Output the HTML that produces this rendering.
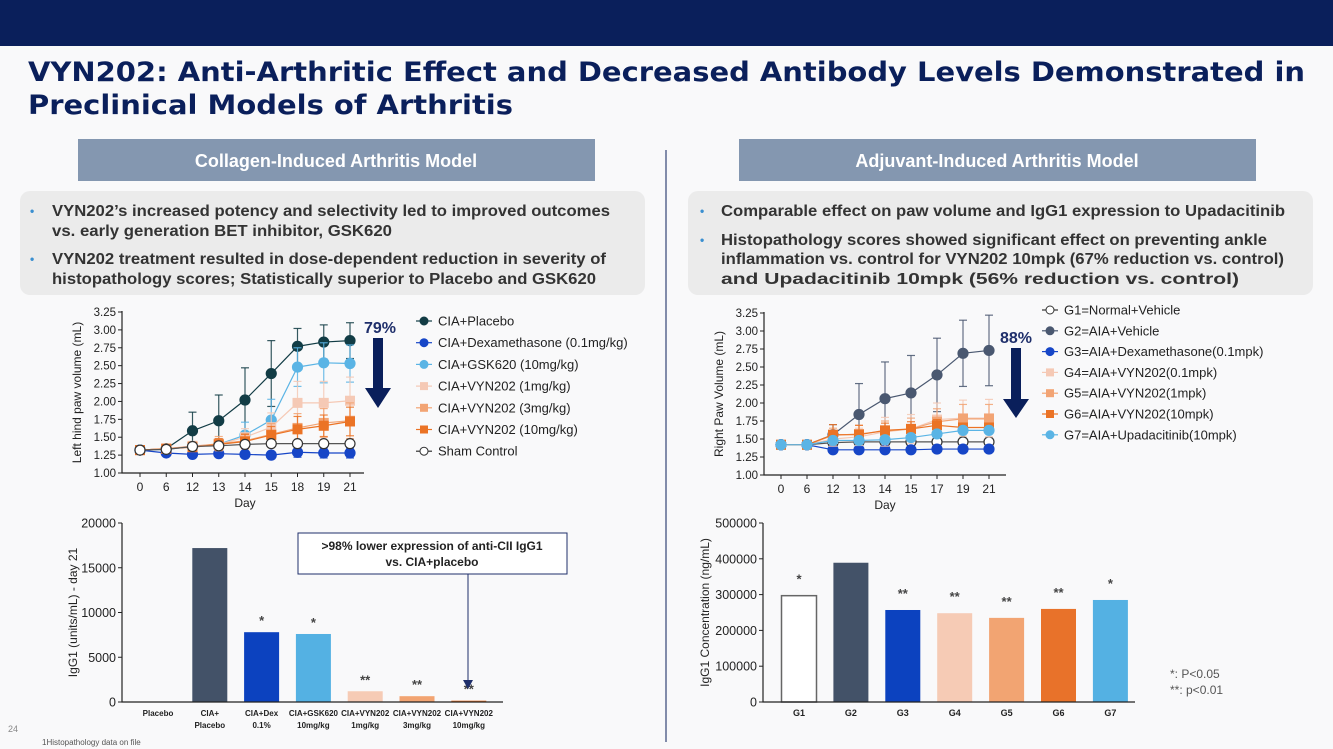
<!DOCTYPE html>
<html><head><meta charset="utf-8"><style>
html,body{margin:0;padding:0;background:#f9f9fa;}
svg{display:block;font-family:"Liberation Sans",Arial,sans-serif;}
</style></head><body>
<svg id="s" width="1333" height="749" viewBox="0 0 1333 749" xmlns="http://www.w3.org/2000/svg">
<rect x="0" y="0" width="1333" height="749" fill="#f9f9fa"/>
<rect x="0" y="0" width="1333" height="46" fill="#0a1f5b"/>
<g font-family="'DejaVu Sans',sans-serif" font-weight="bold" font-size="27" fill="#0a1f5b">
<text x="28" y="81" textLength="1277" lengthAdjust="spacingAndGlyphs">VYN202: Anti-Arthritic Effect and Decreased Antibody Levels Demonstrated in</text>
<text x="28" y="114" textLength="485" lengthAdjust="spacingAndGlyphs">Preclinical Models of Arthritis</text>
</g>
<rect x="78" y="139" width="517" height="42" fill="#8497b0"/>
<text x="336" y="167" text-anchor="middle" fill="#fff" font-weight="bold" font-size="18">Collagen-Induced Arthritis Model</text>
<rect x="739" y="139" width="517" height="42" fill="#8497b0"/>
<text x="997" y="167" text-anchor="middle" fill="#fff" font-weight="bold" font-size="18">Adjuvant-Induced Arthritis Model</text>
<line x1="666" y1="150" x2="666" y2="742" stroke="#0a1f5b" stroke-width="1"/>
<rect x="20" y="191" width="625" height="104" rx="10" fill="#ebebeb"/>
<rect x="688" y="191" width="625" height="104" rx="10" fill="#ebebeb"/>
<g font-weight="bold" font-size="16" fill="#333">
<text x="30" y="215" fill="#3a8fd0" font-size="12">•</text>
<text x="52" y="216" textLength="558" lengthAdjust="spacingAndGlyphs">VYN202’s increased potency and selectivity led to improved outcomes</text>
<text x="52" y="236" textLength="340" lengthAdjust="spacingAndGlyphs">vs. early generation BET inhibitor, GSK620</text>
<text x="30" y="263" fill="#3a8fd0" font-size="12">•</text>
<text x="52" y="264" textLength="554" lengthAdjust="spacingAndGlyphs">VYN202 treatment resulted in dose-dependent reduction in severity of</text>
<text x="52" y="284" textLength="544" lengthAdjust="spacingAndGlyphs">histopathology scores; Statistically superior to Placebo and GSK620</text>
</g>
<g font-weight="bold" font-size="16" fill="#333">
<text x="700" y="215" fill="#3a8fd0" font-size="12">•</text>
<text x="721" y="216" textLength="564" lengthAdjust="spacingAndGlyphs">Comparable effect on paw volume and IgG1 expression to Upadacitinib</text>
<text x="700" y="244" fill="#3a8fd0" font-size="12">•</text>
<text x="721" y="245" textLength="546" lengthAdjust="spacingAndGlyphs">Histopathology scores showed significant effect on preventing ankle</text>
<text x="721" y="264" textLength="563" lengthAdjust="spacingAndGlyphs">inflammation vs. control for VYN202 10mpk (67% reduction vs. control)</text>
<text x="721" y="284" textLength="518" lengthAdjust="spacingAndGlyphs">and Upadacitinib 10mpk (56% reduction vs. control)</text>
</g>
<g id="charts"></g>
<!-- arrows -->
<text x="380" y="333" text-anchor="middle" font-weight="bold" font-size="16" fill="#1f2f6b">79%</text>
<polygon points="373,338 383,338 383,388 391,388 378,408 365,388 373,388" fill="#0a1f5b"/>
<text x="1016" y="343" text-anchor="middle" font-weight="bold" font-size="16" fill="#1f2f6b">88%</text>
<polygon points="1011,348 1021,348 1021,399 1029,399 1016,418 1003,399 1011,399" fill="#0a1f5b"/>
<!-- annotation -->
<rect x="298" y="533" width="269" height="41" fill="#fff" stroke="#1f2f6b" stroke-width="1"/>
<text x="432" y="550" text-anchor="middle" font-weight="bold" font-size="12" fill="#222">&gt;98% lower expression of anti-CII IgG1</text>
<text x="432" y="566" text-anchor="middle" font-weight="bold" font-size="12" fill="#222">vs. CIA+placebo</text>
<line x1="468" y1="574" x2="468" y2="680" stroke="#1f2f6b" stroke-width="1"/>
<polygon points="463,680 473,680 468,689" fill="#1f2f6b"/>
<text x="1170" y="678" font-size="12" fill="#555">*:   P&lt;0.05</text>
<text x="1170" y="694" font-size="12" fill="#555">**:  p&lt;0.01</text>
<text x="8" y="732" font-size="9" fill="#888">24</text>
<text x="42" y="745" font-size="8" fill="#555">1Histopathology data on file</text>
</svg>
<script>
// ---- data ----
const days = ["0","6","12","13","14","15","18","19","21"];
const daysR = ["0","6","12","13","14","15","17","19","21"];
const lineTicks = [1.00,1.25,1.50,1.75,2.00,2.25,2.50,2.75,3.00,3.25];
const ciaNames = ["CIA+Placebo","CIA+Dexamethasone (0.1mg/kg)","CIA+GSK620 (10mg/kg)","CIA+VYN202 (1mg/kg)","CIA+VYN202 (3mg/kg)","CIA+VYN202 (10mg/kg)","Sham Control"];
const ciaPlacebo = [1.32,1.34,1.59,1.73,2.02,2.39,2.77,2.83,2.85];
const ciaPlaceboErr = [0.03,0.02,0.26,0.36,0.45,0.46,0.25,0.24,0.25];
const ciaDex = [1.32,1.28,1.26,1.27,1.26,1.25,1.29,1.28,1.28];
const ciaDexErr = [0.03,0.02,0.03,0.03,0.04,0.05,0.07,0.07,0.07];
const ciaGsk = [1.32,1.33,1.37,1.40,1.53,1.74,2.48,2.54,2.53];
const ciaGskErr = [0.03,0.02,0.05,0.08,0.18,0.29,0.27,0.28,0.26];
const ciaV1 = [1.32,1.34,1.38,1.40,1.50,1.64,1.98,1.98,2.01];
const ciaV1Err = [0.03,0.02,0.05,0.08,0.12,0.2,0.3,0.3,0.33];
const ciaV3 = [1.32,1.34,1.37,1.41,1.45,1.54,1.63,1.70,1.73];
const ciaV3Err = [0.03,0.02,0.05,0.1,0.1,0.15,0.2,0.2,0.25];
const ciaV10 = [1.32,1.34,1.36,1.40,1.44,1.53,1.61,1.66,1.72];
const ciaV10Err = [0.03,0.02,0.05,0.08,0.1,0.12,0.18,0.15,0.2];
const ciaSham = [1.32,1.33,1.37,1.38,1.40,1.41,1.41,1.41,1.41];
const aiaNames = ["G1=Normal+Vehicle","G2=AIA+Vehicle","G3=AIA+Dexamethasone(0.1mpk)","G4=AIA+VYN202(0.1mpk)","G5=AIA+VYN202(1mpk)","G6=AIA+VYN202(10mpk)","G7=AIA+Upadacitinib(10mpk)"];
const aiaG1 = [1.42,1.42,1.45,1.46,1.46,1.46,1.46,1.46,1.46];
const aiaG2 = [1.42,1.42,1.56,1.84,2.06,2.14,2.39,2.69,2.73];
const aiaG2Err = [0.03,0.03,0.14,0.43,0.51,0.52,0.51,0.46,0.49];
const aiaG3 = [1.42,1.42,1.35,1.35,1.35,1.35,1.36,1.36,1.36];
const aiaG4 = [1.42,1.42,1.50,1.53,1.60,1.64,1.77,1.79,1.79];
const aiaG4Err = [0.02,0.02,0.1,0.12,0.2,0.2,0.23,0.25,0.26];
const aiaG5 = [1.42,1.42,1.55,1.57,1.61,1.64,1.74,1.78,1.78];
const aiaG5Err = [0.02,0.02,0.1,0.12,0.14,0.15,0.18,0.2,0.2];
const aiaG6 = [1.42,1.42,1.56,1.56,1.62,1.64,1.69,1.66,1.66];
const aiaG6Err = [0.02,0.02,0.14,0.13,0.1,0.1,0.08,0.06,0.06];
const aiaG7 = [1.42,1.42,1.48,1.48,1.49,1.52,1.57,1.62,1.62];
const ciaBarCats = [["Placebo",""],["CIA+","Placebo"],["CIA+Dex","0.1%"],["CIA+GSK620","10mg/kg"],["CIA+VYN202","1mg/kg"],["CIA+VYN202","3mg/kg"],["CIA+VYN202","10mg/kg"]];
const ciaBarVals = [0,17200,7800,7600,1200,650,150];
const ciaBarSig = ["","","*","*","**","**","**"];
const ciaBarTicks = [0,5000,10000,15000,20000];
const aiaBarCats = ["G1","G2","G3","G4","G5","G6","G7"];
const aiaBarVals = [297000,389000,257000,248000,235000,260000,285000];
const aiaBarSig = ["*","","**","**","**","**","*"];
const aiaBarTicks = [0,100000,200000,300000,400000,500000];

const NS="http://www.w3.org/2000/svg";
const root=document.getElementById('charts');
function el(tag,attrs,parent,txt){const e=document.createElementNS(NS,tag);for(const k in attrs)e.setAttribute(k,attrs[k]);if(txt!==undefined)e.textContent=txt;(parent||root).appendChild(e);return e;}

function lineChart(cfg){
  const g=el('g',{});
  
  
  const y=v=>cfg.y0+(v-1)/(2.25)*(cfg.y1-cfg.y0);
  const x=i=>cfg.x0+i*(cfg.x1-cfg.x0)/(cfg.cats.length-1);
  const ax=el('path',{d:`M${cfg.ax},${cfg.y1-1} V${cfg.y0} H${cfg.axEnd}`,stroke:'#222',fill:'none','stroke-width':1.2},g);
  
  
  lineTicks.forEach(t=>{
    el('line',{x1:cfg.ax-4,x2:cfg.ax,y1:y(t),y2:y(t),stroke:'#222'},g);
    const tl=el('text',{x:cfg.ax-6,y:y(t)+4,'text-anchor':'end','font-size':11.5,fill:'#222'},g,t.toFixed(2));
    
    
  });
  cfg.cats.forEach((c,i)=>{
    el('line',{x1:x(i),x2:x(i),y1:cfg.y0,y2:cfg.y0+4,stroke:'#222'},g);
    const tl=el('text',{x:x(i),y:cfg.y0+18,'text-anchor':'middle','font-size':12,fill:'#222'},g,c);
    
    
  });
  const xt=el('text',{x:(cfg.x0+cfg.x1)/2,y:cfg.y0+34,'text-anchor':'middle','font-size':12,fill:'#222'},g,'Day');
  
  
  const yt=el('text',{transform:`translate(${cfg.ax-41},${(cfg.y0+cfg.y1)/2}) rotate(-90)`,'text-anchor':'middle','font-size':12,fill:'#222'},g,cfg.ytitle);
  
  
  cfg.series.forEach((s,si)=>{
    const sg=el('g',{},g);
    
    
    if(s.err){s.vals.forEach((v,i)=>{
      const e=s.err[i];
      el('line',{x1:x(i),x2:x(i),y1:y(v-e),y2:y(v+e),stroke:s.c,'stroke-width':1.2,opacity:0.85},sg);
      el('line',{x1:x(i)-4,x2:x(i)+4,y1:y(v+e),y2:y(v+e),stroke:s.c,'stroke-width':1.2,opacity:0.85},sg);
      el('line',{x1:x(i)-4,x2:x(i)+4,y1:y(v-e),y2:y(v-e),stroke:s.c,'stroke-width':1.2,opacity:0.85},sg);
    });}
    el('polyline',{points:s.vals.map((v,i)=>x(i)+','+y(v)).join(' '),fill:'none',stroke:s.open?'#555':s.c,'stroke-width':1.2},sg);
    s.vals.forEach((v,i)=>{
      let m;
      if(s.sq) m=el('rect',{x:x(i)-5,y:y(v)-5,width:10,height:10,fill:s.c},sg);
      else m=el('circle',{cx:x(i),cy:y(v),r:5,fill:s.open?'#fff':s.c,stroke:s.open?'#333':s.c,'stroke-width':1.2},sg);
      
      
    });
    // legend
    const ly=cfg.legY+si*cfg.legStep;
    const lg=el('g',{},g);
    
    
    el('line',{x1:cfg.legX-8,x2:cfg.legX+8,y1:ly,y2:ly,stroke:s.open?'#333':s.c,'stroke-width':1.2},lg);
    if(s.sq) el('rect',{x:cfg.legX-4,y:ly-4,width:8,height:8,fill:s.c},lg);
    else el('circle',{cx:cfg.legX,cy:ly,r:4,fill:s.open?'#fff':s.c,stroke:s.open?'#333':s.c},lg);
    el('text',{x:cfg.legX+14,y:ly+4.5,'font-size':13,fill:'#222'},lg,cfg.names[si]);
  });
}
const C={dark:'#123c45',blue:'#1746c7',lblue:'#5ab4e5',pale:'#f5c9b5',mid:'#f2a474',org:'#eb7325',slate:'#4a5870'};
lineChart({name:'cia-paw-volume-chart',cats:days,names:ciaNames,x0:140,x1:350,ax:122,axEnd:364,y0:473,y1:312,ytitle:'Left hind paw volume (mL)',legX:424,legY:321,legStep:21.7,
 series:[{vals:ciaPlacebo,err:ciaPlaceboErr,c:C.dark},{vals:ciaDex,err:ciaDexErr,c:C.blue},{vals:ciaGsk,err:ciaGskErr,c:C.lblue},{vals:ciaV1,err:ciaV1Err,c:C.pale,sq:1},{vals:ciaV3,err:ciaV3Err,c:C.mid,sq:1},{vals:ciaV10,err:ciaV10Err,c:C.org,sq:1},{vals:ciaSham,c:'#fff',open:1}]});
lineChart({name:'aia-paw-volume-chart',cats:daysR,names:aiaNames,x0:781,x1:989,ax:764,axEnd:1006,y0:475,y1:313,ytitle:'Right Paw Volume (mL)',legX:1050,legY:310,legStep:20.8,
 series:[{vals:aiaG1,c:'#fff',open:1},{vals:aiaG2,err:aiaG2Err,c:C.slate},{vals:aiaG3,c:C.blue},{vals:aiaG4,err:aiaG4Err,c:C.pale,sq:1},{vals:aiaG5,err:aiaG5Err,c:C.mid,sq:1},{vals:aiaG6,err:aiaG6Err,c:C.org,sq:1},{vals:aiaG7,c:C.lblue}]});

function barChart(cfg){
  const g=el('g',{});
  
  
  const max=cfg.ticks[cfg.ticks.length-1];
  const y=v=>cfg.y0-v/max*(cfg.y0-cfg.y1);
  const x=i=>cfg.xc0+i*cfg.step;
  cfg.vals.forEach((v,i)=>{
    const b=el('rect',{x:x(i)-17.5,y:y(v),width:35,height:cfg.y0-y(v),fill:cfg.colors[i],stroke:cfg.strokes?cfg.strokes[i]:'none','stroke-width':1.5},g);
    
    
    if(cfg.sig[i]){const s=el('text',{x:x(i),y:y(v)-cfg.sigOff,'text-anchor':'middle','font-size':13,'font-weight':'bold',fill:'#444'},g,cfg.sig[i]);
      
      }
  });
  el('path',{d:`M${cfg.ax},${cfg.y1} V${cfg.y0} H${cfg.axEnd}`,stroke:'#222',fill:'none','stroke-width':1.2},g);
  cfg.ticks.forEach(t=>{
    el('line',{x1:cfg.ax-4,x2:cfg.ax,y1:y(t),y2:y(t),stroke:'#222'},g);
    const tl=el('text',{x:cfg.ax-6,y:y(t)+4.5,'text-anchor':'end','font-size':12.5,fill:'#222'},g,String(t));
    
    
  });
  cfg.cats.forEach((c,i)=>{
    const lines=Array.isArray(c)?c:[c];
    lines.forEach((l,j)=>{const t=el('text',{x:x(i),y:cfg.y0+14+j*12,'text-anchor':'middle','font-size':cfg.catSize,'font-weight':'bold',fill:'#222'},g,l);
      
      });
  });
  const yt=el('text',{transform:`translate(${cfg.ytX},${(cfg.y0+cfg.y1)/2}) rotate(-90)`,'text-anchor':'middle','font-size':12,fill:'#222'},g,cfg.ytitle);
  
  
}
barChart({name:'cia-igg1-bar-chart',cats:ciaBarCats,vals:ciaBarVals,sig:ciaBarSig,ticks:ciaBarTicks,xc0:158,step:51.8,ax:122,axEnd:503,y0:702,y1:523,catSize:8,sigOff:7,ytX:77,ytitle:'IgG1 (units/mL) - day 21',
 colors:['#fff','#435268','#0c42bf','#54b1e3','#f6cbb5','#f2a472','#e8722a']});
barChart({name:'aia-igg1-bar-chart',cats:aiaBarCats,vals:aiaBarVals,sig:aiaBarSig,ticks:aiaBarTicks,xc0:799,step:51.9,ax:763,axEnd:1135,y0:702,y1:523,catSize:9,sigOff:12,ytX:709,ytitle:'IgG1 Concentration (ng/mL)',
 colors:['#fff','#435268','#0c42bf','#f6cbb5','#f2a472','#e8722a','#54b1e3'],strokes:['#666','none','none','none','none','none','none']});
</script>
</body></html>
